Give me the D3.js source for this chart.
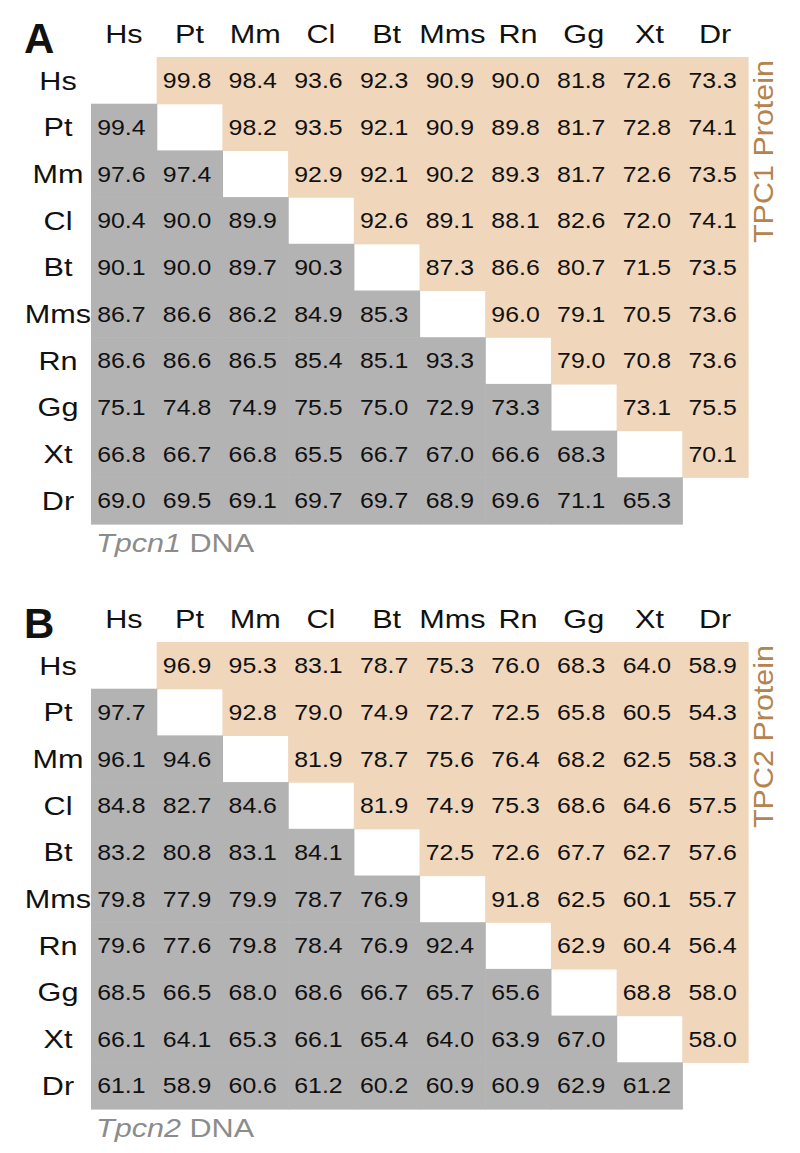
<!DOCTYPE html>
<html><head><meta charset="utf-8">
<script src="https://cdn.jsdelivr.net/npm/d3@7"></script>
<style>body{margin:0;background:#fff}svg{display:block}text{font-family:"Liberation Sans",Arial,sans-serif}</style>
</head><body>
<script>
const species = ["Hs","Pt","Mm","Cl","Bt","Mms","Rn","Gg","Xt","Dr"];

// Upper triangle (protein identity), row i, columns i+1..9
const tpc1Protein = [
  [99.8,98.4,93.6,92.3,90.9,90.0,81.8,72.6,73.3],
  [98.2,93.5,92.1,90.9,89.8,81.7,72.8,74.1],
  [92.9,92.1,90.2,89.3,81.7,72.6,73.5],
  [92.6,89.1,88.1,82.6,72.0,74.1],
  [87.3,86.6,80.7,71.5,73.5],
  [96.0,79.1,70.5,73.6],
  [79.0,70.8,73.6],
  [73.1,75.5],
  [70.1],
  []
];
// Lower triangle (DNA identity), row i, columns 0..i-1
const tpcn1DNA = [
  [],
  [99.4],
  [97.6,97.4],
  [90.4,90.0,89.9],
  [90.1,90.0,89.7,90.3],
  [86.7,86.6,86.2,84.9,85.3],
  [86.6,86.6,86.5,85.4,85.1,93.3],
  [75.1,74.8,74.9,75.5,75.0,72.9,73.3],
  [66.8,66.7,66.8,65.5,66.7,67.0,66.6,68.3],
  [69.0,69.5,69.1,69.7,69.7,68.9,69.6,71.1,65.3]
];
const tpc2Protein = [
  [96.9,95.3,83.1,78.7,75.3,76.0,68.3,64.0,58.9],
  [92.8,79.0,74.9,72.7,72.5,65.8,60.5,54.3],
  [81.9,78.7,75.6,76.4,68.2,62.5,58.3],
  [81.9,74.9,75.3,68.6,64.6,57.5],
  [72.5,72.6,67.7,62.7,57.6],
  [91.8,62.5,60.1,55.7],
  [62.9,60.4,56.4],
  [68.8,58.0],
  [58.0],
  []
];
const tpcn2DNA = [
  [],
  [97.7],
  [96.1,94.6],
  [84.8,82.7,84.6],
  [83.2,80.8,83.1,84.1],
  [79.8,77.9,79.9,78.7,76.9],
  [79.6,77.6,79.8,78.4,76.9,92.4],
  [68.5,66.5,68.0,68.6,66.7,65.7,65.6],
  [66.1,64.1,65.3,66.1,65.4,64.0,63.9,67.0],
  [61.1,58.9,60.6,61.2,60.2,60.9,60.9,62.9,61.2]
];

const panels = [
  {letter:"A", protein:tpc1Protein, dna:tpcn1DNA, proteinLabel:"TPC1 Protein", gene:"Tpcn1", top:57},
  {letter:"B", protein:tpc2Protein, dna:tpcn2DNA, proteinLabel:"TPC2 Protein", gene:"Tpcn2", top:642}
];

const W = 800, H = 1153;
const PEACH = "#f0d6bb", GRAY = "#b4b3b4", BROWN = "#b5834d", DNAGRAY = "#8c8c8c";
const SX = 1.13, SXL = 1.2;

const svg = d3.select("body").append("svg").attr("width", W).attr("height", H);

panels.forEach(p => {
  const x = d3.scaleBand().domain(species).range([91, 748]);
  const y = d3.scaleBand().domain(species).range([p.top, p.top + 467]);
  const g = svg.append("g");

  const cells = [];
  p.protein.forEach((row, i) => row.forEach((v, k) => cells.push({r: species[i], c: species[i + 1 + k], v, type: "p"})));
  p.dna.forEach((row, i) => row.forEach((v, k) => cells.push({r: species[i], c: species[k], v, type: "d"})));

  g.selectAll("rect.cell").data(cells).join("rect")
    .attr("x", d => x(d.c)).attr("y", d => y(d.r))
    .attr("width", x.bandwidth() + 0.6).attr("height", y.bandwidth() + 0.6)
    .attr("fill", d => d.type === "p" ? PEACH : GRAY);

  g.selectAll("text.val").data(cells).join("text")
    .attr("transform", d => `translate(${x(d.c) + x.bandwidth() / 2 - 2.5},${y(d.r) + y.bandwidth() / 2 + 7.8}) scale(${SX},1)`)
    .attr("text-anchor", "middle").attr("font-size", 22).attr("fill", "#111")
    .text(d => d.v.toFixed(1));

  // column headers
  g.selectAll("text.col").data(species).join("text")
    .attr("transform", d => `translate(${x(d) + x.bandwidth() / 2},${p.top - 14}) scale(${SXL},1)`)
    .attr("text-anchor", "middle").attr("font-size", 25.5).attr("fill", "#111")
    .text(d => d);

  // row labels
  g.selectAll("text.row").data(species).join("text")
    .attr("transform", d => `translate(58,${y(d) + y.bandwidth() / 2 + 9.2}) scale(${SXL},1)`)
    .attr("text-anchor", "middle").attr("font-size", 25.5).attr("fill", "#111")
    .text(d => d);

  // panel letter
  g.append("text").attr("x", 24).attr("y", p.top - 4)
    .attr("font-size", 42).attr("font-weight", "bold").attr("fill", "#111").text(p.letter);

  // protein side label
  g.append("text")
    .attr("transform", `translate(773,${p.top + 186}) rotate(-90)`)
    .attr("font-size", 28).attr("fill", BROWN)
    .attr("textLength", 183).attr("lengthAdjust", "spacingAndGlyphs")
    .text(p.proteinLabel);

  // DNA label
  const t = g.append("text")
    .attr("transform", `translate(96,${p.top + 494.5}) scale(${SXL},1)`)
    .attr("font-size", 25.5).attr("fill", DNAGRAY);
  t.append("tspan").attr("font-style", "italic").text(p.gene);
  t.append("tspan").text(" DNA");
});
</script>
</body></html>
